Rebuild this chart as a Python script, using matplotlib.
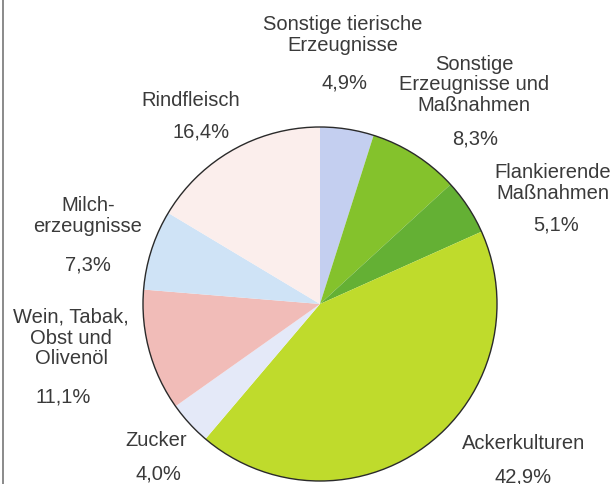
import matplotlib.pyplot as plt
from matplotlib.patches import Circle

# Anteile in Prozent, im Uhrzeigersinn ab 12 Uhr
labels = ['Sonstige tierische\nErzeugnisse', 'Sonstige\nErzeugnisse und\nMaßnahmen',
          'Flankierende\nMaßnahmen', 'Ackerkulturen', 'Zucker',
          'Wein, Tabak,\nObst und\nOlivenöl', 'Milch-\nerzeugnisse', 'Rindfleisch']
shares = [4.9, 8.3, 5.1, 42.9, 4.0, 11.1, 7.3, 16.4]
colors = ['#c4cff0', '#84c22c', '#64b034', '#bfdb2c', '#e4e9f8',
          '#f1bcb8', '#cfe3f6', '#fbeeec']

# label positions in pixels (x, y from top): name and percentage
name_pos = [(343, 35), (474, 85), (553, 183), (524, 444), (156, 441),
            (71, 338), (88, 216), (191, 101)]
pct_pos = [(345, 83), (475, 139), (556, 225), (523, 477), (158, 474),
           (63, 397), (88, 265), (201, 132)]

W, H = 615, 485
fig = plt.figure(figsize=(W / 100, H / 100), dpi=100)
ax = fig.add_axes([0, 0, 1, 1])

cx, cy, r = 320, 305, 177
ax.pie(shares, colors=colors, startangle=90, counterclock=False,
       center=(cx, H - cy), radius=r, wedgeprops=dict(linewidth=0))
ax.add_patch(Circle((cx, H - cy), r, fill=False, edgecolor='#2a2a2a', linewidth=1.0))

txt = dict(fontsize=14.5, color='#3a3a3a', family='Liberation Sans',
           ha='center', va='center', linespacing=1.12)
for lab, (x, y) in zip(labels, name_pos):
    ax.text(x, H - y, lab, **txt)
for val, (x, y) in zip(shares, pct_pos):
    ax.text(x, H - y, f'{val:.1f}%'.replace('.', ','), **txt)

# left border line of the original scan
ax.plot([3, 3], [0, H], color='#777777', linewidth=1.2)

ax.set_xlim(0, W)
ax.set_ylim(0, H)
ax.set_aspect('equal')
ax.axis('off')
fig.savefig('out.png', dpi=100)
